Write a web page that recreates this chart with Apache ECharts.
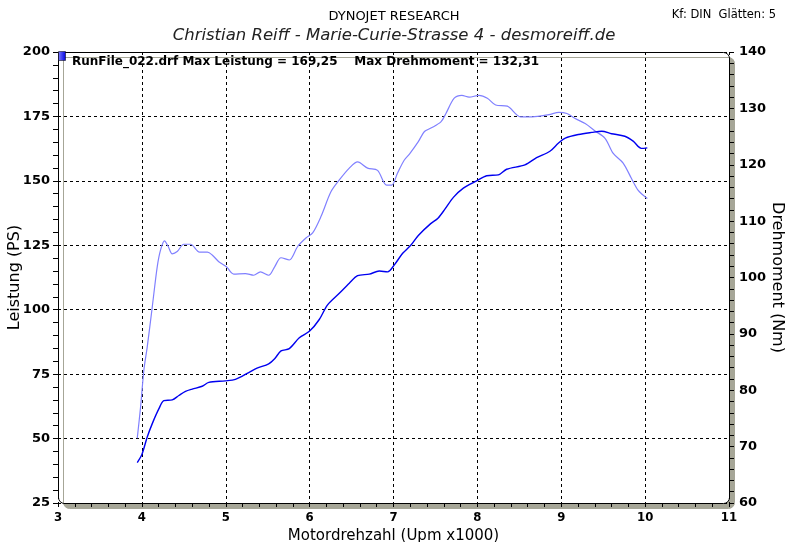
<!DOCTYPE html>
<html>
<head>
<meta charset="utf-8">
<script src="https://cdn.jsdelivr.net/npm/echarts@6/dist/echarts.min.js"></script>
<style>
  html, body { margin: 0; padding: 0; background: #fff; }
  #chart { width: 788px; height: 542px; }
</style>
</head>
<body>
<div id="chart"></div>
<script>
// Leistung (PS) über Drehzahl (x1000 Upm)
const powerRpm = [3.945, 4.0, 4.064, 4.124, 4.202, 4.262, 4.362, 4.441, 4.52, 4.6, 4.719, 4.798, 4.996, 5.115, 5.274, 5.373, 5.512, 5.583, 5.659, 5.758, 5.877, 6.0, 6.115, 6.214, 6.354, 6.473, 6.572, 6.711, 6.83, 6.929, 7.008, 7.107, 7.206, 7.296, 7.44, 7.53, 7.615, 7.714, 7.833, 7.992, 8.111, 8.25, 8.349, 8.567, 8.706, 8.865, 8.968, 9.048, 9.206, 9.364, 9.482, 9.6, 9.758, 9.857, 9.955, 10.026]
const powerPs = [40.7, 43.8, 50.6, 55.8, 61.5, 64.7, 65.0, 66.7, 68.3, 69.2, 70.3, 71.8, 72.4, 73.0, 75.6, 77.3, 79.0, 81.0, 84.0, 84.9, 89.1, 91.7, 96.2, 101.9, 106.4, 110.3, 113.2, 113.8, 115.0, 114.7, 117.3, 121.8, 125.0, 128.8, 133.3, 135.5, 139.1, 143.6, 147.2, 150.0, 152.0, 152.3, 154.5, 156.2, 159.0, 161.5, 164.7, 166.6, 168.0, 168.8, 169.25, 168.3, 167.3, 165.4, 162.6, 162.8]

// Drehmoment (Nm) über Drehzahl
const torqueRpm = [3.945, 3.985, 4.024, 4.064, 4.124, 4.183, 4.223, 4.27, 4.314, 4.362, 4.421, 4.5, 4.58, 4.687, 4.782, 4.838, 4.917, 5.008, 5.095, 5.234, 5.333, 5.413, 5.512, 5.583, 5.659, 5.758, 5.857, 5.956, 6.036, 6.135, 6.254, 6.354, 6.473, 6.572, 6.691, 6.81, 6.917, 6.98, 7.047, 7.127, 7.19, 7.296, 7.369, 7.446, 7.565, 7.625, 7.724, 7.815, 7.902, 8.02, 8.119, 8.218, 8.357, 8.515, 8.654, 8.853, 8.972, 9.067, 9.166, 9.285, 9.403, 9.522, 9.62, 9.738, 9.836, 9.915, 10.026]
const torqueNm = [71.5, 77.1, 83.6, 87.7, 94.8, 101.9, 104.9, 106.5, 105.5, 104.2, 104.6, 105.9, 105.9, 104.5, 104.5, 104.0, 102.8, 101.9, 100.6, 100.7, 100.4, 101.0, 100.4, 101.9, 103.5, 103.1, 105.5, 107.0, 107.9, 110.8, 115.2, 117.3, 119.4, 120.5, 119.4, 119.0, 116.4, 116.4, 118.5, 120.8, 121.9, 124.1, 125.9, 126.5, 127.6, 129.1, 131.8, 132.3, 132.0, 132.31, 131.8, 130.6, 130.4, 128.5, 128.5, 128.9, 129.3, 129.1, 128.2, 127.3, 126.0, 124.7, 122.0, 120.3, 117.6, 115.5, 114.0]

const W = 788, H = 542
const GRID = { left: 58, top: 52, right: 59, bottom: 39 }
const tickFont = 'DejaVu Sans'
const plotW = W - GRID.left - GRID.right
const plotH = H - GRID.top - GRID.bottom

const chart = echarts.init(document.getElementById('chart'))

const option = {
  backgroundColor: '#fff',
  animation: false,
  title: [
    { text: 'DYNOJET RESEARCH', left: 'center', top: 5,
      textStyle: { fontFamily: tickFont, fontSize: 13, fontWeight: 'normal', color: '#000' } },
    { text: 'Christian Reiff - Marie-Curie-Strasse 4 - desmoreiff.de', left: 'center', top: 22,
      textStyle: { fontFamily: tickFont, fontSize: 16.5, fontStyle: 'italic', fontWeight: 'normal', color: '#222' } },
    { text: 'Kf: DIN  Glätten: 5', right: 7, top: 4,
      textStyle: { fontFamily: tickFont, fontSize: 11.5, fontWeight: 'normal', color: '#000' } },
    { text: 'RunFile_022.drf Max Leistung = 169,25    Max Drehmoment = 132,31', left: 67, top: 51,
      textStyle: { fontFamily: tickFont, fontSize: 12, fontWeight: 'bold', color: '#000' } }
  ],
  graphic: [
    {
      type: 'rect', z: -10, silent: true,
      shape: { x: GRID.left + 0.5, y: GRID.top + 0.5, width: plotW, height: plotH, r: [0, 6, 6, 6] },
      style: { fill: '#fff', stroke: '#000', lineWidth: 1,
        shadowColor: '#a6a697', shadowOffsetX: 5, shadowOffsetY: 5, shadowBlur: 0 }
    },
    {
      type: 'rect', z: 10, silent: true,
      shape: { x: GRID.left + 0.5, y: GRID.top - 0.5, width: 7, height: 9 },
      style: { fill: new echarts.graphic.LinearGradient(0, 0, 1, 0, [
        { offset: 0, color: '#8080ff' }, { offset: 1, color: '#0000e0' }]), stroke: '#000', lineWidth: 0.5 }
    }
  ],
  grid: { left: GRID.left, top: GRID.top, right: GRID.right, bottom: GRID.bottom, outerBoundsMode: 'none', containLabel: false },
  xAxis: {
    type: 'value', min: 3, max: 11, interval: 1,
    name: 'Motordrehzahl (Upm x1000)', nameLocation: 'middle', nameGap: 25,
    nameTextStyle: { fontFamily: tickFont, fontSize: 15, color: '#000' },
    axisLine: { show: false },
    axisTick: { show: true, length: 4, lineStyle: { color: '#000' } },
    minorTick: { show: true, splitNumber: 5, length: 4, lineStyle: { color: '#000' } },
    axisLabel: { fontFamily: 'DejaVu Sans Condensed', fontWeight: 'bold', fontSize: 13, color: '#000', margin: 8 },
    splitLine: { show: true, lineStyle: { color: '#000', type: [3, 3], width: 1 } }
  },
  yAxis: [
    {
      type: 'value', min: 25, max: 200, interval: 25,
      name: 'Leistung (PS)', nameLocation: 'middle', nameGap: 35, nameRotate: 90, nameMoveOverlap: false,
      nameTextStyle: { fontFamily: tickFont, fontSize: 16, color: '#000' },
      axisLine: { show: false },
      axisTick: { show: true, length: 5, lineStyle: { color: '#000' } },
      minorTick: { show: true, splitNumber: 5, length: 5, lineStyle: { color: '#000' } },
      axisLabel: { fontFamily: tickFont, fontWeight: 'bold', fontSize: 13, color: '#000', margin: 8 },
      splitLine: { show: true, lineStyle: { color: '#000', type: [3, 3], width: 1 } }
    },
    {
      type: 'value', min: 60, max: 140, interval: 10, position: 'right',
      name: 'Drehmoment (Nm)', nameLocation: 'middle', nameGap: 40, nameRotate: -90, nameMoveOverlap: false,
      nameTextStyle: { fontFamily: tickFont, fontSize: 16, color: '#000' },
      axisLine: { show: false },
      axisTick: { show: true, length: 5, lineStyle: { color: '#000' } },
      minorTick: { show: true, splitNumber: 5, length: 5, lineStyle: { color: '#000' } },
      axisLabel: { fontFamily: tickFont, fontWeight: 'bold', fontSize: 13, color: '#000', margin: 10 },
      splitLine: { show: false }
    }
  ],
  series: [
    {
      name: 'Drehmoment', type: 'line', yAxisIndex: 1, smooth: 0.3,
      showSymbol: false, silent: true,
      lineStyle: { color: '#8080ff', width: 1.2 },
      data: torqueRpm.map((r, i) => [r, torqueNm[i]])
    },
    {
      name: 'Leistung', type: 'line', yAxisIndex: 0, smooth: 0.3,
      showSymbol: false, silent: true,
      lineStyle: { color: '#0000f0', width: 1.4 },
      data: powerRpm.map((r, i) => [r, powerPs[i]])
    }
  ]
}

chart.setOption(option)
</script>
</body>
</html>
